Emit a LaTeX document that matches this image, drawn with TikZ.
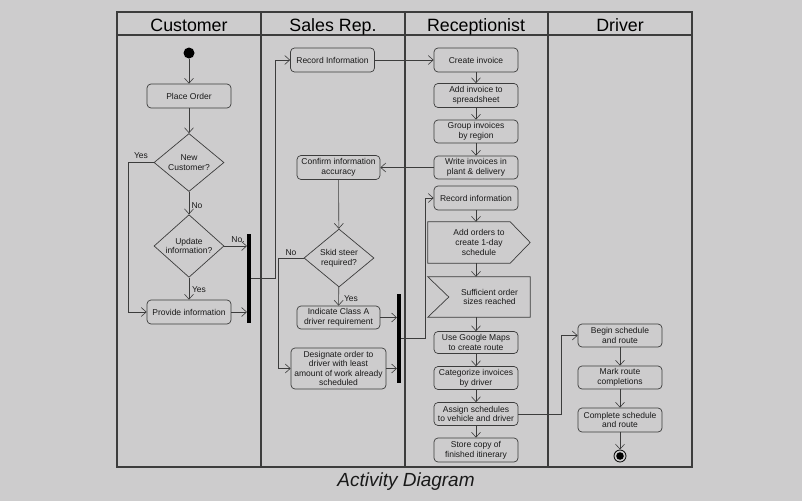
\documentclass[tikz,border=0pt]{standalone}
\usepackage{fontspec}
\setmainfont{Liberation Sans}
\usetikzlibrary{arrows.meta}
\usetikzlibrary{shapes.geometric}
\usepackage{xcolor}
\definecolor{bgcol}{RGB}{205,204,205}
\definecolor{linecol}{RGB}{60,60,60}
\definecolor{txtcol}{RGB}{25,25,25}
\newcommand{\boxfont}{\fontsize{8.5}{9.6}\selectfont}
\tikzset{
  lane/.style={draw=linecol, line width=1.1pt},
  divider/.style={draw=linecol, line width=2.2pt},
  act/.style={draw=linecol, line width=0.7pt, rounded corners=4pt, minimum width=84pt, minimum height=24pt, inner sep=1pt, align=center, font=\boxfont, text=txtcol},
  dec/.style={draw=linecol, line width=0.7pt, diamond, minimum width=70pt, minimum height=58pt, inner sep=0pt, align=center, font=\boxfont, text=txtcol},
  flow/.style={draw=linecol, line width=0.6pt, -{Straight Barb[length=5pt,width=9pt,line width=0.6pt]}},
  plain/.style={draw=linecol, line width=0.6pt},
  guard/.style={font=\boxfont, text=txtcol, inner sep=0.5pt},
  bar/.style={fill=black, minimum width=3.6pt, inner sep=0pt},
  lanehead/.style={font=\fontsize{17.8}{20}\selectfont, text=black, anchor=base, inner sep=0pt},
}

\begin{document}
\begin{tikzpicture}[x=1pt,y=1pt,yscale=-1,xscale=1]
\fill[bgcol] (0,0) rectangle (802,501);
\useasboundingbox (0,0) rectangle (802,501);

%Shape: Swimlanes
\draw[lane] (117,12) rectangle (692,467);
\draw[lane] (117,35) -- (692,35);
\draw[divider] (261,12) -- (261,467);
\draw[divider] (405,12) -- (405,467);
\draw[divider] (548,12) -- (548,467);
% Text Node
\node[lanehead] (hcust) at (189,31) {Customer};
\node[lanehead] (hsales) at (333,31) {Sales Rep.};
\node[lanehead] (hrecep) at (476,31) {Receptionist};
\node[lanehead] (hdriver) at (620,31) {Driver};

%Customer lane
\node[circle, fill=black, minimum size=11pt, inner sep=0pt] (start) at (189,53) {};
\node[act] (place) at (189,96) {Place Order};
\node[dec] (newc) at (189,162.5) {New\\Customer?};
\node[dec] (upd) at (189,246) {Update\\information?};
\node[act] (prov) at (189,312) {Provide information};
\node[bar, minimum height=89pt] (bar1) at (249,278.5) {};

\draw[flow] (start) -- (place);
\draw[flow] (place) -- (newc);
\draw[flow] (newc) -- (upd);
\draw[flow] (upd) -- (prov);
\draw[flow] (newc.west) -- ++(-25,0) |- (prov.west);
\draw[flow] (upd.east) -- (upd.east -| bar1.west);
\draw[flow] (prov.east) -- (prov.east -| bar1.west);
% Text Node
\node[guard] (gyes1) at (141,156) {Yes};
\node[guard] (gno1) at (197,206) {No};
\node[guard] (gno2) at (238,240) {No.};
\node[guard] (gyes2) at (199,290) {Yes};

%Sales Rep. lane
\node[act] (rec1) at (332.5,60) {Record Information};
\node[act, minimum width=83pt] (conf) at (338.5,167.5) {Confirm information\\accuracy};
\node[dec] (skid) at (339,258) {Skid steer\\required?};
\node[act, minimum width=83pt, minimum height=23pt] (ind) at (338.5,317.5) {Indicate Class A\\driver requirement};
\node[act, minimum width=95pt, minimum height=41pt] (desig) at (338.5,368.5) {Designate order to\\driver with least\\amount of work already\\scheduled};
\node[bar, minimum height=89pt] (bar2) at (399,338.5) {};

\draw[flow] (bar1.east) -- ++(24,0) |- (rec1.west);
\draw[flow] (conf) -- (skid);
\draw[flow] (skid) -- (ind);
\draw[flow] (skid.west) -- ++(-25,0) |- (desig.west);
\draw[flow] (ind.east) -- (ind.east -| bar2.west);
\draw[flow] (desig.east) -- (desig.east -| bar2.west);
% Text Node
\node[guard] (gno3) at (291,253) {No};
\node[guard] (gyes3) at (351,299) {Yes};

%Receptionist lane
\node[act] (create) at (476,60) {Create invoice};
\node[act] (addinv) at (476,95.5) {Add invoice to\\spreadsheet};
\node[act, minimum height=23pt] (group) at (476,131.5) {Group invoices\\by region};
\node[act, minimum height=23pt] (write) at (476,167.5) {Write invoices in\\plant \& delivery};
\node[act] (rec2) at (476,198) {Record information};
\node[minimum width=102pt, minimum height=41pt, inner sep=0pt, align=center, font=\boxfont, text=txtcol] (addord) at (479,242.5) {Add orders to\\create 1-day\\schedule};
\draw[plain, line width=0.7pt] (addord.north west) -- ([xshift=-20pt]addord.north east) -- (addord.east) -- ([xshift=-20pt]addord.south east) -- (addord.south west) -- cycle;
\node[minimum width=81pt, minimum height=40pt, inner sep=0pt, align=center, font=\boxfont, text=txtcol] (suff) at (489.5,297) {Sufficient order\\sizes reached};
\draw[plain, line width=0.7pt] (suff.north east) -- (suff.south east) -- ([xshift=-21pt]suff.south west) -- (suff.west) -- ([xshift=-21pt]suff.north west) -- cycle;
\node[act, minimum height=22pt] (maps) at (476,342.5) {Use Google Maps\\to create route};
\node[act, minimum height=23pt] (categ) at (476,378) {Categorize invoices\\by driver};
\node[act, minimum height=23pt] (assign) at (476,414) {Assign schedules\\to vehicle and driver};
\node[act] (store) at (476,450) {Store copy of\\finished itinerary};

\draw[flow] (rec1) -- (create);
\draw[flow] (create) -- (addinv);
\draw[flow] (addinv) -- (group);
\draw[flow] (group) -- (write);
\draw[flow] (write) -- (conf);
\draw[flow] (bar2.east) -- ++(24,0) |- (rec2.west);
\draw[flow] (rec2.south) -- (rec2.south |- addord.north);
\draw[flow] (rec2.south |- addord.south) -- (rec2.south |- suff.north);
\draw[flow] (rec2.south |- suff.south) -- (maps.north);
\draw[flow] (maps) -- (categ);
\draw[flow] (categ) -- (assign);
\draw[flow] (assign) -- (store);

%Driver lane
\node[act, minimum height=23pt] (begin) at (620,335.5) {Begin schedule\\and route};
\node[act, minimum height=23pt] (mark) at (620,377.5) {Mark route\\completions};
\node[act] (compl) at (620,420) {Complete schedule\\and route};
\node[circle, draw=black, line width=0.8pt, minimum size=12pt, inner sep=0pt] (end) at (620,456) {};
\fill[black] (end.center) circle (3.8pt);

\draw[flow] (assign.east) -- ++(43,0) |- (begin.west);
\draw[flow] (begin) -- (mark);
\draw[flow] (mark) -- (compl);
\draw[flow] (compl) -- (end);

% Text Node
\node[font=\fontsize{19}{22}\selectfont\itshape, text=txtcol] (caption) at (406,482) {Activity Diagram};
\end{tikzpicture}
\end{document}
